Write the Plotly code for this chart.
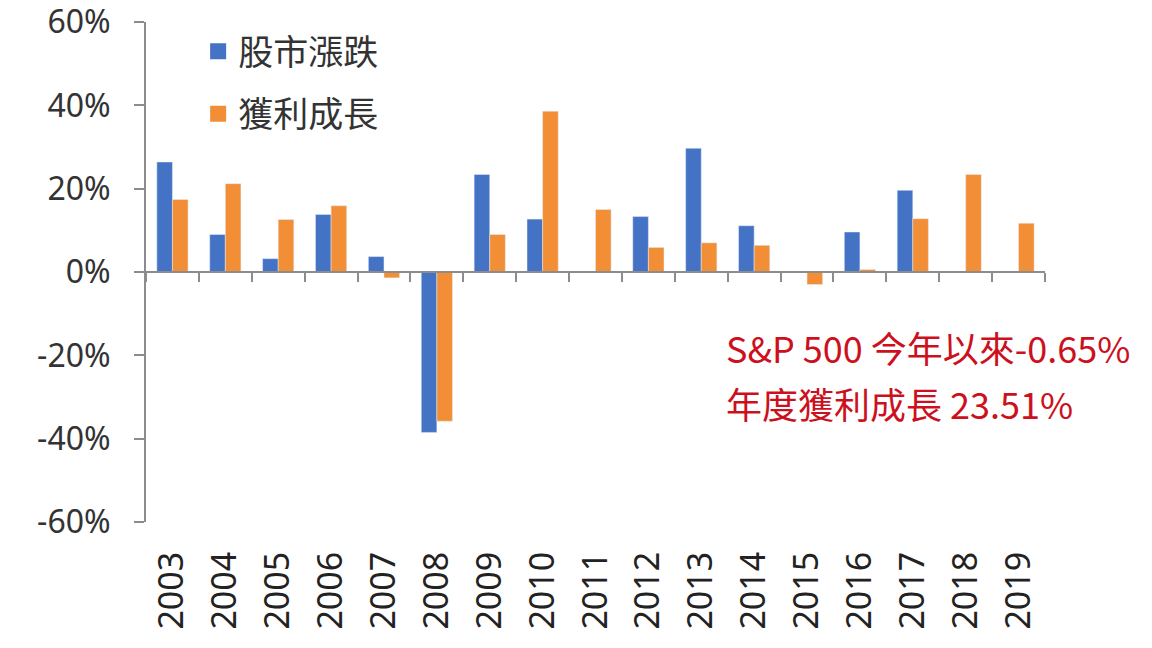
import plotly.graph_objects as go

# ==========================================
# DATA
# ==========================================

years = [str(y) for y in range(2003, 2020)]

stock_change = [
    26.4, 9.0, 3.2, 13.8, 3.7, -38.5, 23.4, 12.7, None,
    13.3, 29.7, 11.1, None, 9.6, 19.6, None, None
]

earnings_growth = [
    17.4, 21.2, 12.6, 15.9, -1.4, -35.8, 9.0, 38.6, 15.0,
    5.9, 7.0, 6.4, -3.0, 0.6, 12.8, 23.4, 11.7
]

y_ticks = [-60, -40, -20, 0, 20, 40, 60]
y_tick_text = [f"{v}%" for v in y_ticks]

note_lines = [
    "S&P 500 今年以來-0.65%",
    "年度獲利成長 23.51%"
]

BLUE = "#4472C4"
ORANGE = "#F28E36"
GREY = "#8C8C8C"
RED = "#CC1020"
FONT = "Noto Sans CJK TC, Noto Sans, sans-serif"

# ==========================================
# FIGURE
# ==========================================

fig = go.Figure()

fig.add_trace(
    go.Bar(
        x=years,
        y=stock_change,
        name="股市漲跌",
        marker_color=BLUE,
        showlegend=False
    )
)

fig.add_trace(
    go.Bar(
        x=years,
        y=earnings_growth,
        name="獲利成長",
        marker_color=ORANGE,
        showlegend=False
    )
)

# legend entries with larger square swatches
for name, colour, group in [("股市漲跌", BLUE, "a"), ("獲利成長", ORANGE, "b")]:
    fig.add_trace(
        go.Scatter(
            x=[None],
            y=[None],
            mode="markers",
            name=name,
            legendgroup=group,
            marker=dict(symbol="square", size=20, color=colour)
        )
    )

# invisible trace carrying the bottom year labels
fig.add_trace(
    go.Scatter(
        x=years,
        y=[None] * len(years),
        xaxis="x2",
        mode="markers",
        showlegend=False,
        hoverinfo="skip"
    )
)

# page body adds an 8px offset, so margins are trimmed to compensate
fig.update_layout(
    width=1152,
    height=648,
    paper_bgcolor="white",
    plot_bgcolor="white",
    font=dict(family=FONT, color="#333333", size=26),
    margin=dict(l=138, r=115, t=14, b=134),
    barmode="group",
    bargap=0.41,
    bargroupgap=0,
    legend=dict(
        x=0.058,
        y=1.0,
        xanchor="left",
        yanchor="top",
        font=dict(size=35, color="#333333"),
        tracegroupgap=14,
        itemsizing="trace",
        bgcolor="rgba(0,0,0,0)"
    ),
    xaxis=dict(
        type="category",
        categoryarray=years,
        range=[-0.5, len(years) - 0.5],
        anchor="free",
        position=0.5,
        showline=True,
        linecolor=GREY,
        linewidth=2,
        ticks="outside",
        tickson="boundaries",
        ticklen=9,
        tickwidth=2,
        tickcolor=GREY,
        showticklabels=False,
        showgrid=False,
        zeroline=False,
        automargin=False
    ),
    xaxis2=dict(
        type="category",
        categoryarray=years,
        range=[-0.5, len(years) - 0.5],
        overlaying="x",
        anchor="y",
        side="bottom",
        showline=False,
        ticks="",
        showgrid=False,
        zeroline=False,
        automargin=False,
        tickangle=-90,
        ticklabelstandoff=22,
        ticklabeloverflow="allow",
        tickfont=dict(size=34, color="#222222", family="Noto Sans, sans-serif")
    ),
    yaxis=dict(
        range=[-60, 60],
        tickvals=y_ticks,
        ticktext=y_tick_text,
        showline=True,
        linecolor=GREY,
        linewidth=2,
        ticks="outside",
        ticklen=10,
        tickwidth=2,
        tickcolor=GREY,
        showgrid=False,
        zeroline=False,
        automargin=False,
        ticklabelstandoff=17,
        ticklabeloverflow="allow",
        tickfont=dict(size=32, color="#333333", family="Noto Sans, sans-serif")
    )
)

for i, line in enumerate(note_lines):
    fig.add_annotation(
        xref="paper",
        yref="paper",
        x=0.643,
        y=0.35 - i * 0.112,
        xanchor="left",
        yanchor="middle",
        text=line,
        showarrow=False,
        font=dict(size=36, color=RED, family=FONT)
    )

fig.write_html("out.html")
